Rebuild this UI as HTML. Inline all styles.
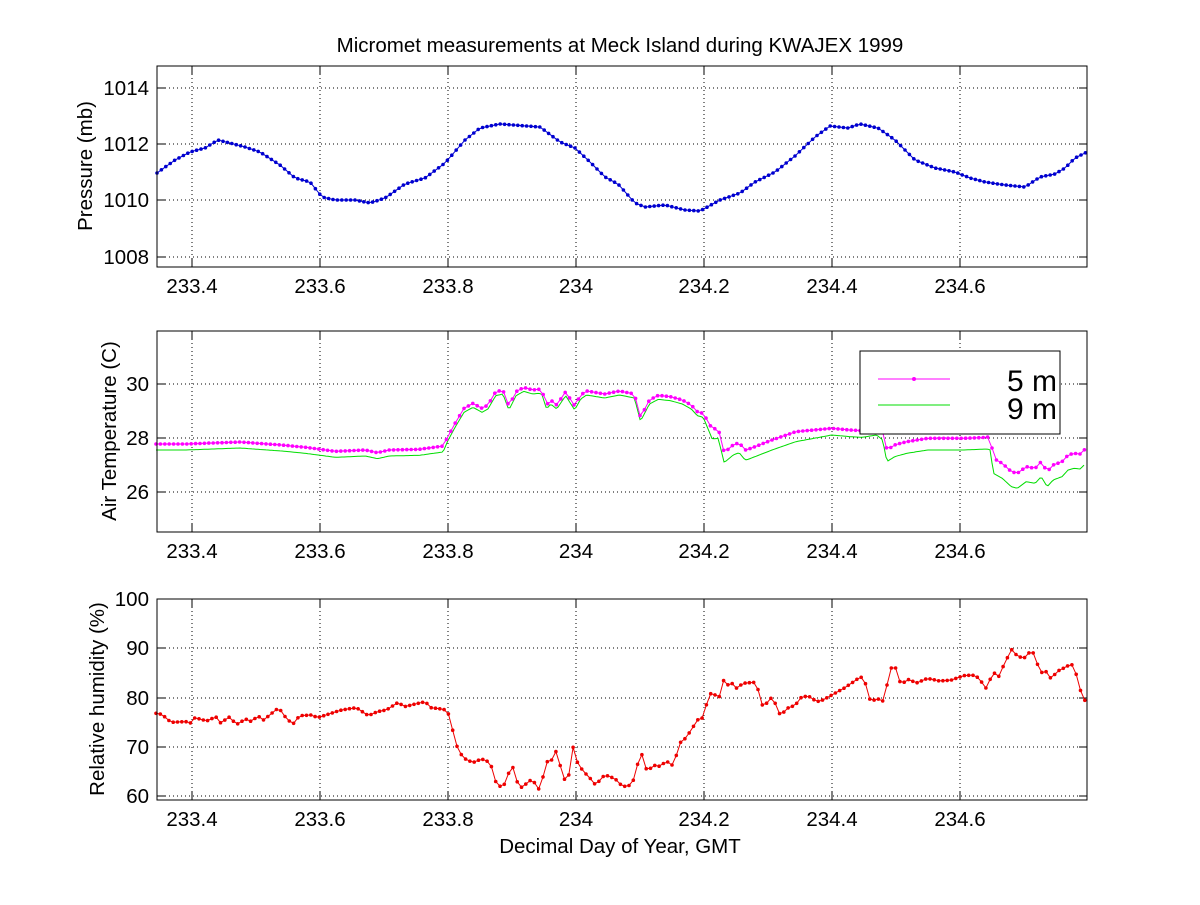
<!DOCTYPE html>
<html><head><meta charset="utf-8"><style>
body{margin:0;background:#fff;width:1200px;height:900px;overflow:hidden}
svg text{font-family:"Liberation Sans",Arial,sans-serif;fill:#000}
</style></head><body>
<svg id="s" width="1200" height="900" xmlns="http://www.w3.org/2000/svg"></svg>
<script>
const S=document.getElementById('s');let h='';
const L=157,R=1087;
const axes=[{t:66,b:267,ticks:[[1008,257],[1010,200],[1012,144],[1014,88]]},
{t:331,b:532,ticks:[[26,492],[28,438],[30,384]]},
{t:599,b:800,ticks:[[60,796],[70,747],[80,698],[90,648],[100,599]]}];
const xt=[233.4,233.6,233.8,234,234.2,234.4,234.6];
const xp=v=>192+(v-233.4)*640;
h+='<text x="620" y="52" font-size="20.5" text-anchor="middle">Micromet measurements at Meck Island during KWAJEX 1999</text>';
axes.forEach(a=>{
 xt.forEach(v=>{const x=xp(v);
  h+=`<line x1="${x}" y1="${a.t}" x2="${x}" y2="${a.b}" stroke="#000" stroke-width="1" stroke-dasharray="1,3"/>`;
  h+=`<line x1="${x}" y1="${a.b}" x2="${x}" y2="${a.b-8}" stroke="#000"/><line x1="${x}" y1="${a.t}" x2="${x}" y2="${a.t+8}" stroke="#000"/>`;
  h+=`<text x="${x}" y="${a.b+26}" font-size="20.5" text-anchor="middle">${String(v)}</text>`;});
 a.ticks.forEach(([v,y])=>{
  h+=`<line x1="${L}" y1="${y}" x2="${R}" y2="${y}" stroke="#000" stroke-dasharray="1,3"/>`;
  h+=`<line x1="${L}" y1="${y}" x2="${L+8}" y2="${y}" stroke="#000"/><line x1="${R}" y1="${y}" x2="${R-8}" y2="${y}" stroke="#000"/>`;
  h+=`<text x="${L-8}" y="${y+7}" font-size="20.5" text-anchor="end">${v}</text>`;});
});
function interp(pts,step){const out=[];for(let x=pts[0][0];x<=pts[pts.length-1][0]+0.01;x+=step){let i=0;while(i<pts.length-2&&pts[i+1][0]<x)i++;const [x0,y0]=pts[i],[x1,y1]=pts[i+1];const t=x1==x0?0:(x-x0)/(x1-x0);out.push([x,y0+(y1-y0)*Math.max(0,Math.min(1,t))]);}return out;}
function series(pts,col,marker,step,sw){const p=interp(pts,step);h+=`<polyline fill="none" stroke="${col}" stroke-width="${sw||1}" points="${p.map(q=>q[0].toFixed(1)+','+q[1].toFixed(1)).join(' ')}"/>`;
 if(marker)p.forEach(q=>{h+=`<circle cx="${q[0].toFixed(1)}" cy="${q[1].toFixed(1)}" r="1.8" fill="${col}"/>`;});}
const P=[[157,173],[175,160],[190,152],[205,148],[218,140],[230,143],[245,147],[260,152],[280,165],[295,178],[310,182],[322,197],[335,200],[355,200],[370,203],[385,198],[405,184],[425,178],[445,163],[465,140],[480,128],[500,124],[540,127],[560,142],[575,148],[590,162],[605,177],[618,184],[635,203],[645,207],[665,205],[685,210],[700,211],[720,200],[740,193],[755,182],[775,172],[795,156],[815,137],[830,126],[848,128],[860,124],[878,128],[895,140],[915,160],[935,168],[955,172],[970,178],[985,182],[1005,185],[1025,187],[1040,177],[1055,174],[1065,168],[1075,158],[1087,152]];
series(P,'#0000d0',true,4.4);
const tz=[[10,342],[60,342],[150,336],[220,345],[260,352],[310,364],[360,360],[380,368],[400,360],[450,358],[490,348],[498,320],[510,280],[525,235],[540,220],[555,235],[565,225],[578,185],[590,180],[600,228],[612,185],[625,172],[640,180],[650,178],[655,180],[663,225],[670,210],[680,225],[695,185],[710,228],[720,195],[730,183],[760,192],[785,183],[810,192],[820,262],[835,210],[850,196],[870,200],[890,210],[905,225],[915,245],[925,250],[940,297],[950,295],[960,368],[975,345],[985,338],[995,360],[1000,358],[1040,330],[1080,305],[1140,295],[1170,300],[1190,302],[1215,285],[1225,300],[1232,360],[1245,345],[1265,335],[1300,325],[1360,325],[1400,322],[1405,315],[1410,385],[1425,400],[1440,425],[1450,430],[1465,410],[1480,415],[1490,395],[1500,425],[1510,405],[1525,395],[1535,375],[1545,370],[1555,372],[1563,358]];
function off(x){if(x<498)return 18;if(x<940)return 12;if(x<1230)return x>1080&&x<1200?20:30;if(x<1405)return 35;return 45;}
const T5=tz.map(([x,y])=>[150+x/1.672,330+y/3]);
const T9=tz.map(([x,y])=>[150+x/1.672,330+(y+off(x))/3]);
series(T9,'#00dd00',false,2);
series(T5,'#ff00ff',true,4.4);
const rz=[[10,355],[20,358],[35,382],[60,380],[70,385],[75,368],[95,378],[110,365],[120,388],[130,363],[145,388],[160,372],[170,380],[180,362],[190,375],[215,338],[230,375],[240,385],[250,362],[270,360],[280,368],[320,345],[345,338],[365,362],[380,350],[395,345],[415,322],[425,335],[460,320],[470,338],[480,340],[495,345],[500,360],[508,420],[515,465],[525,490],[540,503],[550,495],[560,492],[570,510],[580,572],[590,575],[595,560],[605,505],[612,555],[620,578],[630,565],[640,550],[648,588],[655,565],[662,500],[670,500],[680,465],[690,545],[698,565],[708,450],[715,505],[725,530],[735,548],[745,570],[760,540],[770,545],[780,555],[790,575],[805,570],[812,537],[820,465],[832,535],[840,510],[855,515],[862,495],[872,512],[878,495],[885,445],[895,430],[905,405],[915,375],[925,368],[935,295],[945,300],[952,305],[960,250],[965,270],[975,265],[982,283],[990,265],[1010,262],[1015,265],[1020,325],[1028,335],[1035,310],[1043,310],[1050,355],[1057,357],[1065,340],[1080,330],[1085,310],[1100,302],[1115,320],[1125,315],[1140,300],[1160,280],[1175,262],[1188,245],[1195,258],[1205,322],[1215,310],[1225,318],[1233,265],[1240,215],[1248,220],[1255,268],[1270,252],[1280,265],[1300,250],[1320,258],[1340,255],[1360,242],[1375,240],[1385,248],[1398,280],[1410,232],[1420,245],[1425,220],[1433,190],[1442,160],[1450,185],[1463,188],[1472,168],[1480,178],[1488,240],[1495,222],[1508,255],[1515,230],[1525,222],[1535,212],[1545,208],[1553,275],[1563,316]];
series(rz.map(([x,y])=>[150+x/1.672,595+y/3]),'#ee0000',true,4.3);
axes.forEach(a=>{h+=`<rect x="${L}" y="${a.t}" width="${R-L}" height="${a.b-a.t}" fill="none" stroke="#000"/>`;});
h+='<rect x="860" y="351" width="200" height="83" fill="#fff" stroke="#000"/>';
h+='<line x1="878" y1="379" x2="950" y2="379" stroke="#ff00ff"/><circle cx="914" cy="379" r="2" fill="#ff00ff"/>';
h+='<line x1="878" y1="405" x2="950" y2="405" stroke="#00dd00"/>';
h+='<text x="1057" y="391" font-size="30" text-anchor="end">5 m</text><text x="1057" y="419" font-size="30" text-anchor="end">9 m</text>';
h+='<text transform="translate(92,166) rotate(-90)" font-size="20.5" text-anchor="middle">Pressure (mb)</text>';
h+='<text transform="translate(116,431) rotate(-90)" font-size="20.5" text-anchor="middle">Air Temperature (C)</text>';
h+='<text transform="translate(104,699) rotate(-90)" font-size="20.5" text-anchor="middle">Relative humidity (%)</text>';
h+='<text x="620" y="853" font-size="20.5" text-anchor="middle">Decimal Day of Year, GMT</text>';
S.innerHTML=h;
</script>
</body></html>
